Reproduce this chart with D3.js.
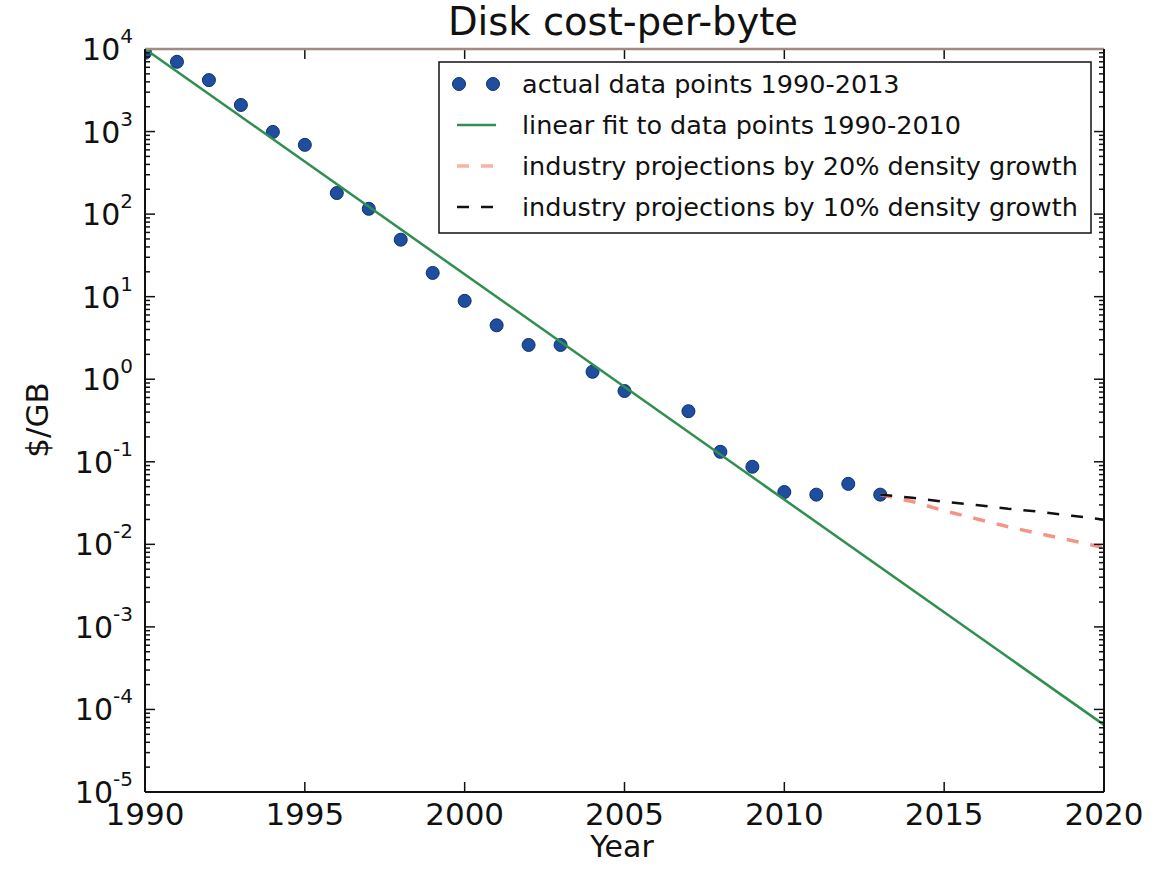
<!DOCTYPE html>
<html>
<head>
<meta charset="utf-8">
<script src="https://cdn.jsdelivr.net/npm/d3@7"></script>
<style>
  html, body { margin: 0; padding: 0; background: #fff; }
  svg { display: block; }
  text { font-family: "DejaVu Sans", sans-serif; fill: #111; }
</style>
</head>
<body>
<svg id="chart" width="1166" height="871"></svg>
<script>
// ---- data ----
const years = [1990,1991,1992,1993,1994,1995,1996,1997,1998,1999,2000,2001,2002,2003,2004,2005,2007,2008,2009,2010,2011,2012,2013];
const costs = [9000,7000,4200,2100,990,690,180,116,49,19.4,8.9,4.5,2.6,2.6,1.23,0.72,0.41,0.132,0.087,0.043,0.040,0.054,0.040];
const fitYears = [1990, 2020];
const fitCosts = [10000, 6.5e-5];
const projYears = [2013,2014,2015,2016,2017,2018,2019,2020];
const proj20 = [0.040,0.033,0.0255,0.0204,0.0163,0.0134,0.0111,0.0091];
const proj10 = [0.040,0.0366,0.0328,0.030,0.027,0.0248,0.0222,0.0199];
const xTicks = [1990,1995,2000,2005,2010,2015,2020];
const yExponents = [4,3,2,1,0,-1,-2,-3,-4,-5];
const legendLabels = [
  "actual data points 1990-2013",
  "linear fit to data points 1990-2010",
  "industry projections by 20% density growth",
  "industry projections by 10% density growth"
];
const titleText = "Disk cost-per-byte";
const xLabel = "Year";
const yLabel = "$/GB";

// ---- layout ----
const L = 145, R = 1104, T = 49, B = 792;
const svg = d3.select("#chart");
const x = d3.scaleLinear().domain([1990, 2020]).range([L, R]);
const y = d3.scaleLog().domain([1e-5, 1e4]).range([B, T]);

const colPts = "#1f4e9f", colFit = "#2e8f4e", colRed = "#f3806e", colBlk = "#111";

svg.append("defs").append("clipPath").attr("id", "clip")
  .append("rect").attr("x", L).attr("y", T).attr("width", R - L).attr("height", B - T);

const plot = svg.append("g").attr("clip-path", "url(#clip)");

// points
plot.selectAll("circle.pt").data(years.map((d, i) => [d, costs[i]])).enter()
  .append("circle").attr("class", "pt")
  .attr("cx", d => x(d[0])).attr("cy", d => y(d[1])).attr("r", 6.5)
  .attr("fill", colPts).attr("stroke", "#0e2f6b").attr("stroke-width", 1);

const line = d3.line().x(d => x(d[0])).y(d => y(d[1]));
plot.append("path").datum(fitYears.map((d, i) => [d, fitCosts[i]]))
  .attr("d", line).attr("fill", "none").attr("stroke", colFit).attr("stroke-width", 2.5);
plot.append("path").datum(projYears.map((d, i) => [d, proj20[i]]))
  .attr("d", line).attr("fill", "none").attr("stroke", colRed).attr("stroke-width", 3.5)
  .attr("stroke-dasharray", "12,12").attr("opacity", 0.85);
plot.append("path").datum(projYears.map((d, i) => [d, proj10[i]]))
  .attr("d", line).attr("fill", "none").attr("stroke", colBlk).attr("stroke-width", 2.5)
  .attr("stroke-dasharray", "12,12");

// ticks
const tk = svg.append("g").attr("stroke", "#111").attr("stroke-width", 1.5);
xTicks.forEach(t => {
  tk.append("line").attr("x1", x(t)).attr("x2", x(t)).attr("y1", B).attr("y2", B - 10);
  tk.append("line").attr("x1", x(t)).attr("x2", x(t)).attr("y1", T).attr("y2", T + 10);
});
yExponents.forEach(e => {
  const v = Math.pow(10, e);
  tk.append("line").attr("x1", L).attr("x2", L + 10).attr("y1", y(v)).attr("y2", y(v));
  tk.append("line").attr("x1", R).attr("x2", R - 10).attr("y1", y(v)).attr("y2", y(v));
  if (e < 4) {
    for (let k = 2; k <= 9; k++) {
      const mv = k * v;
      tk.append("line").attr("x1", L).attr("x2", L + 5).attr("y1", y(mv)).attr("y2", y(mv));
      tk.append("line").attr("x1", R).attr("x2", R - 5).attr("y1", y(mv)).attr("y2", y(mv));
    }
  }
});

// spines
svg.append("line").attr("x1", L).attr("x2", R).attr("y1", T).attr("y2", T)
  .attr("stroke", "#a08a82").attr("stroke-width", 2.5);
svg.append("line").attr("x1", L).attr("x2", L).attr("y1", T).attr("y2", B).attr("stroke", "#111").attr("stroke-width", 2);
svg.append("line").attr("x1", R).attr("x2", R).attr("y1", T).attr("y2", B).attr("stroke", "#111").attr("stroke-width", 2);
svg.append("line").attr("x1", L).attr("x2", R).attr("y1", B).attr("y2", B).attr("stroke", "#111").attr("stroke-width", 2);

// x tick labels
svg.selectAll("text.xt").data(xTicks).enter().append("text").attr("class", "xt")
  .attr("x", d => x(d)).attr("y", 825).attr("text-anchor", "middle")
  .attr("font-size", 31).text(d => d);

// y tick labels
yExponents.forEach(e => {
  const t = svg.append("text").attr("x", 133).attr("y", y(Math.pow(10, e)) + 11)
    .attr("text-anchor", "end").attr("font-size", 30);
  t.append("tspan").text("10");
  t.append("tspan").attr("font-size", 20).attr("dy", -17).text(String(e));
});

// title and axis labels
svg.append("text").attr("x", 623).attr("y", 35).attr("text-anchor", "middle")
  .attr("font-size", 38.5).text(titleText);
svg.append("text").attr("x", 622).attr("y", 857).attr("text-anchor", "middle")
  .attr("font-size", 30).text(xLabel);
svg.append("text").attr("transform", "translate(48,420) rotate(-90)").attr("text-anchor", "middle")
  .attr("font-size", 31).text(yLabel);

// legend
const lg = svg.append("g");
lg.append("rect").attr("x", 439).attr("y", 62).attr("width", 1091 - 439).attr("height", 233 - 62)
  .attr("fill", "#fff").attr("stroke", "#111").attr("stroke-width", 1.5);
const rows = [84, 125, 166, 207];
lg.append("circle").attr("cx", 459).attr("cy", rows[0]).attr("r", 6.5).attr("fill", colPts).attr("stroke", "#0e2f6b");
lg.append("circle").attr("cx", 493).attr("cy", rows[0]).attr("r", 6.5).attr("fill", colPts).attr("stroke", "#0e2f6b");
lg.append("line").attr("x1", 457).attr("x2", 496).attr("y1", rows[1]).attr("y2", rows[1])
  .attr("stroke", colFit).attr("stroke-width", 2.5);
lg.append("line").attr("x1", 457).attr("x2", 496).attr("y1", rows[2]).attr("y2", rows[2])
  .attr("stroke", colRed).attr("stroke-width", 3.5).attr("stroke-dasharray", "12,12").attr("opacity", 0.6);
lg.append("line").attr("x1", 457).attr("x2", 496).attr("y1", rows[3]).attr("y2", rows[3])
  .attr("stroke", colBlk).attr("stroke-width", 2.5).attr("stroke-dasharray", "12,12");
legendLabels.forEach((s, i) => {
  lg.append("text").attr("x", 522).attr("y", rows[i] + 9).attr("font-size", 25.5).text(s);
});
</script>
</body>
</html>
